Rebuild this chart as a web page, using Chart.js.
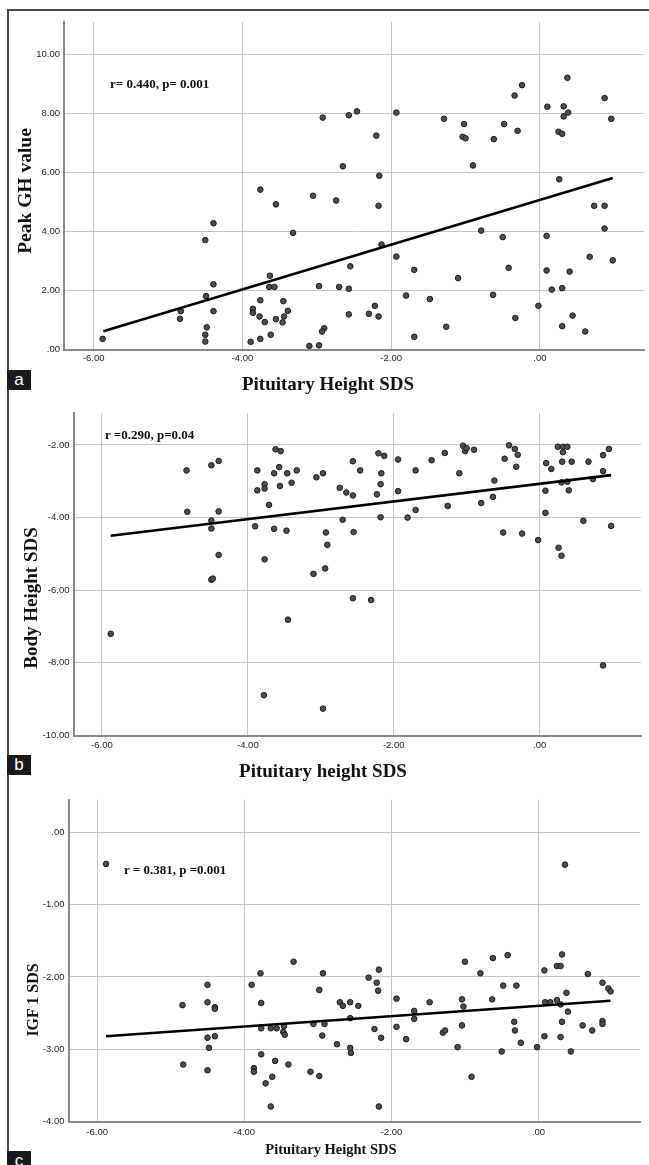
<!DOCTYPE html>
<html>
<head>
<meta charset="utf-8">
<script src="https://cdn.jsdelivr.net/npm/chart.js"></script>
<style>
  body { margin: 0; background: #fff; }
  #page { position: relative; width: 649px; height: 1165px; overflow: hidden; background: #fff; }
  #frame { position: absolute; left: 7px; top: 9px; right: 0; bottom: 0;
           border-top: 2px solid #4a4a4a; border-left: 2px solid #4a4a4a; }
  canvas { position: absolute; left: 0; }
  .ttl { position: absolute; font-family: "Liberation Serif", "Times New Roman", serif; font-weight: bold;
         color: #111; white-space: nowrap; line-height: 1; transform: translate(-50%, -50%); }
  .ytl { transform: translate(-50%, -50%) rotate(-90deg); }
  .note { position: absolute; font-family: "Liberation Serif", "Times New Roman", serif; font-weight: bold;
          font-size: 13px; color: #111; white-space: nowrap; line-height: 1; transform: translateY(-50%); }
  .tag { position: absolute; left: 7px; width: 24px; height: 20px; background: #1a1a1a; color: #fff;
         font-family: "Liberation Sans", Arial, sans-serif; font-size: 17px; line-height: 19px; text-align: center; }
</style>
</head>
<body>
<div id="page">
  <div id="frame"></div>

  <canvas id="chartA" width="649" height="380" style="top:0px"></canvas>
  <canvas id="chartB" width="649" height="360" style="top:395px"></canvas>
  <canvas id="chartC" width="649" height="370" style="top:780px"></canvas>

  <div class="note" style="left:110px; top:83px">r= 0.440, p= 0.001</div>
  <div class="ttl ytl" style="left:25px; top:191px; font-size:19.5px">Peak GH value</div>
  <div class="ttl" style="left:328px; top:383px; font-size:19px">Pituitary Height SDS</div>
  <div class="tag" style="top:370px">a</div>

  <div class="note" style="left:105px; top:434px">r =0.290, p=0.04</div>
  <div class="ttl ytl" style="left:30px; top:598px; font-size:19px">Body Height SDS</div>
  <div class="ttl" style="left:323px; top:770px; font-size:19px">Pituitary height SDS</div>
  <div class="tag" style="top:755px">b</div>

  <div class="note" style="left:124px; top:869px">r = 0.381, p =0.001</div>
  <div class="ttl ytl" style="left:33px; top:1000px; font-size:16px">IGF 1 SDS</div>
  <div class="ttl" style="left:331px; top:1149px; font-size:14.5px">Pituitary Height SDS</div>
  <div class="tag" style="top:1151px">c</div>
</div>

<script>
// ticks shared by the three panels
const xTicks = [-6, -4, -2, 0];
const yTicksA = [0, 2, 4, 6, 8, 10];
const yTicksB = [-10, -8, -6, -4, -2];
const yTicksC = [-4, -3, -2, -1, 0];

// panel a: pituitary height SDS vs peak GH
const pitA = [-5.88, -4.83, -4.84, -4.50, -4.39, -4.39, -4.49, -4.39, -4.48, -4.50, -4.50,
  -3.89, -3.86, -3.86, -3.76, -3.76, -3.77, -3.76, -3.70, -3.63, -3.64, -3.57, -3.62, -3.55,
  -3.55, -3.45, -3.39, -3.44, -3.46, -3.32, -3.05, -2.92, -2.97, -2.90, -2.93, -3.10, -2.97,
  -2.74, -2.65, -2.70, -2.57, -2.55, -2.57, -2.57,
  -2.46, -2.20, -2.16, -2.17, -2.13, -2.30, -2.22, -2.17, -1.93, -1.93, -1.69, -1.80, -1.69,
  -1.48, -1.29, -1.26, -1.10, -1.02, -1.04, -1.00, -0.90, -0.79, -0.62, -0.63, -0.48, -0.50,
  -0.42, -0.34, -0.24, -0.30, -0.33, -0.02, 0.09, 0.09, 0.10, 0.16, 0.26, 0.25, 0.30, 0.32,
  0.32, 0.38, 0.37, 0.30, 0.30, 0.40, 0.44, 0.61, 0.67, 0.73, 0.87, 0.87, 0.87, 0.96, 0.98];
const ghPeak = [0.36, 1.30, 1.04, 3.71, 4.28, 2.21, 1.81, 1.30, 0.75, 0.50, 0.27,
  0.26, 1.38, 1.24, 5.42, 1.67, 1.12, 0.36, 0.93, 2.50, 2.12, 2.12, 0.50, 4.92,
  1.03, 1.64, 1.31, 1.12, 0.92, 3.95, 5.21, 7.86, 2.15, 0.72, 0.61, 0.12, 0.14,
  5.05, 6.21, 2.12, 7.94, 2.82, 2.06, 1.19,
  8.07, 7.25, 5.89, 4.87, 3.56, 1.21, 1.48, 1.12, 8.03, 3.15, 2.70, 1.83, 0.43,
  1.71, 7.82, 0.77, 2.42, 7.64, 7.21, 7.16, 6.24, 4.03, 7.13, 1.85, 7.64, 3.81,
  2.77, 8.61, 8.96, 7.41, 1.07, 1.48, 3.85, 2.68, 8.23, 2.03, 5.77, 7.38, 7.31, 7.90,
  8.24, 8.03, 9.21, 2.08, 0.79, 2.64, 1.15, 0.61, 3.14, 4.87, 4.87, 4.10, 8.52, 7.82, 3.02];
const fitAx = [-5.87, 0.98];
const fitAy = [0.62, 5.81];

// panel b: pituitary height SDS vs body height SDS
const pitB = [-5.88, -4.84, -4.83, -4.50, -4.40, -4.40, -4.50, -4.50, -4.40, -4.50, -4.48,
  -3.90, -3.87, -3.87, -3.77, -3.77, -3.71, -3.77, -3.78, -3.64, -3.64, -3.62, -3.55, -3.57,
  -3.56, -3.46, -3.40, -3.33, -3.47, -3.45, -3.06, -2.97, -3.10, -2.94, -2.93, -2.91, -2.97,
  -2.74, -2.65, -2.70, -2.56, -2.56, -2.55, -2.56,
  -2.46, -2.31, -2.21, -2.13, -2.17, -2.18, -2.23, -2.18, -1.94, -1.94, -1.81, -1.70, -1.70,
  -1.48, -1.30, -1.26, -1.10, -1.05, -1.02, -1.00, -0.90, -0.80, -0.64, -0.62, -0.50, -0.48,
  -0.42, -0.34, -0.30, -0.32, -0.24, -0.02, 0.09, 0.16, 0.08, 0.08, 0.25, 0.32, 0.38, 0.32,
  0.31, 0.44, 0.30, 0.38, 0.40, 0.26, 0.30, 0.60, 0.67, 0.73, 0.87, 0.95, 0.87, 0.98, 0.87];
const bodyHt = [-7.20, -2.70, -3.84, -2.56, -2.44, -3.83, -4.08, -4.30, -5.03, -5.71, -5.68,
  -4.24, -2.70, -3.25, -3.08, -3.20, -3.65, -5.15, -8.89, -4.31, -2.78, -2.12, -2.17, -2.61,
  -3.13, -2.78, -3.04, -2.70, -4.36, -6.81, -2.89, -2.78, -5.55, -5.40, -4.41, -4.75, -9.26,
  -3.18, -3.31, -4.06, -2.45, -3.39, -4.40, -6.22,
  -2.70, -6.27, -2.23, -2.30, -2.78, -3.08, -3.36, -3.99, -2.40, -3.27, -4.00, -2.70, -3.79,
  -2.42, -2.22, -3.68, -2.78, -2.02, -2.17, -2.09, -2.13, -3.60, -3.43, -2.98, -4.41, -2.38,
  -2.01, -2.11, -2.27, -2.60, -4.44, -4.62, -2.50, -2.66, -3.26, -3.87, -2.05, -2.05, -2.05, -2.20,
  -2.46, -2.46, -3.03, -3.01, -3.25, -4.83, -5.05, -4.09, -2.46, -2.94, -2.28, -2.11, -2.72, -4.23, -8.07];
const fitBx = [-5.88, 0.98];
const fitBy = [-4.50, -2.83];

// panel c: pituitary height SDS vs IGF-1 SDS
const pitC = [-5.88, -4.84, -4.83, -4.50, -4.50, -4.40, -4.40, -4.50, -4.40, -4.48, -4.50,
  -3.90, -3.78, -3.77, -3.77, -3.77, -3.87, -3.87, -3.71, -3.64, -3.56, -3.46, -3.47, -3.45,
  -3.58, -3.62, -3.40, -3.64, -3.33, -3.06, -3.10, -2.98, -2.98, -2.93, -2.91, -2.94, -2.74,
  -2.70, -2.66, -2.56, -2.56, -2.56, -2.55,
  -2.45, -2.31, -2.20, -2.17, -2.18, -2.23, -2.14, -2.17, -1.93, -1.93, -1.80, -1.69, -1.69,
  -1.48, -1.30, -1.27, -1.10, -1.04, -1.02, -1.04, -1.00, -0.91, -0.79, -0.63, -0.62, -0.48,
  -0.50, -0.42, -0.30, -0.33, -0.32, -0.24, -0.02, 0.08, 0.08, 0.09, 0.16, 0.25, 0.25, 0.30,
  0.32, 0.30, 0.32, 0.30, 0.36, 0.38, 0.40, 0.44, 0.60, 0.67, 0.73, 0.87, 0.87, 0.87, 0.95, 0.98];
const igf1 = [-0.44, -2.39, -3.21, -2.11, -2.35, -2.42, -2.44, -2.84, -2.82, -2.98, -3.29,
  -2.11, -1.95, -2.36, -2.71, -3.07, -3.26, -3.31, -3.47, -2.71, -2.71, -2.68, -2.76, -2.80,
  -3.16, -3.38, -3.21, -3.79, -1.79, -2.65, -3.31, -3.37, -2.18, -1.95, -2.65, -2.81, -2.93,
  -2.35, -2.40, -2.35, -2.57, -2.98, -3.05,
  -2.40, -2.01, -2.08, -1.90, -2.19, -2.72, -2.84, -3.79, -2.30, -2.69, -2.86, -2.47, -2.58,
  -2.35, -2.77, -2.74, -2.97, -2.31, -2.41, -2.67, -1.79, -3.38, -1.95, -2.31, -1.74, -2.12,
  -3.03, -1.70, -2.12, -2.62, -2.74, -2.91, -2.97, -1.91, -2.82, -2.35, -2.35, -2.32, -1.85, -1.85,
  -1.69, -2.38, -2.62, -2.83, -0.45, -2.22, -2.48, -3.03, -2.67, -1.96, -2.74, -2.08, -2.61, -2.65, -2.16, -2.20];
const fitCx = [-5.88, 0.98];
const fitCy = [-2.82, -2.33];

// SPSS style labels: .00, -2.00, 10.00
function spss(v) {
  let s = Math.abs(v).toFixed(2);
  if (s.startsWith('0')) s = s.slice(1);
  return (v < 0 ? '-' : '') + s;
}

const tickFont = { family: "'Liberation Sans Narrow', 'Liberation Sans', Arial, sans-serif", size: 9.5 };

function makePanel(id, xs, ys, fx, fy, yTicks, xLim, yLim, area, tickPad) {
  const canvas = document.getElementById(id);
  const W = canvas.width, H = canvas.height;
  return new Chart(canvas, {
    type: 'scatter',
    data: {
      datasets: [
        {
          data: fx.map((x, i) => ({ x: x, y: fy[i] })),
          showLine: true,
          borderColor: '#000',
          borderWidth: 2.6,
          pointRadius: 0,
          fill: false
        },
        {
          data: xs.map((x, i) => ({ x: x, y: ys[i] })),
          pointRadius: 2.8,
          pointBackgroundColor: '#4d4d4d',
          pointBorderColor: '#1c1c1c',
          pointBorderWidth: 1
        }
      ]
    },
    options: {
      responsive: false,
      animation: false,
      events: [],
      layout: { padding: { left: 0, top: area.top, right: W - area.right, bottom: 0 } },
      plugins: { legend: { display: false }, tooltip: { enabled: false } },
      scales: {
        x: {
          type: 'linear',
          min: xLim[0], max: xLim[1],
          afterBuildTicks: s => { s.ticks = xTicks.map(v => ({ value: v })); },
          afterFit: s => { s.height = H - area.bottom; },
          ticks: { callback: v => spss(v), font: tickFont, color: '#222', padding: tickPad, maxRotation: 0 },
          grid: { color: '#c6c6c6', lineWidth: 1, drawTicks: false },
          border: { display: true, color: '#8a8a8a', width: 2 }
        },
        y: {
          type: 'linear',
          min: yLim[0], max: yLim[1],
          afterBuildTicks: s => { s.ticks = yTicks.map(v => ({ value: v })); },
          afterFit: s => { s.width = area.left; },
          ticks: { callback: v => spss(v), font: tickFont, color: '#222', padding: 4 },
          grid: { color: '#c6c6c6', lineWidth: 1, drawTicks: false },
          border: { display: true, color: '#8a8a8a', width: 2 }
        }
      }
    }
  });
}

makePanel('chartA', pitA, ghPeak, fitAx, fitAy, yTicksA, [-6.40, 1.40], [0, 11.1],
  { left: 64, top: 22, right: 644, bottom: 349.5 }, 3);
makePanel('chartB', pitB, bodyHt, fitBx, fitBy, yTicksB, [-6.39, 1.39], [-10, -1.12],
  { left: 73.5, top: 18, right: 641, bottom: 340.5 }, 4);
makePanel('chartC', pitC, igf1, fitCx, fitCy, yTicksC, [-6.39, 1.38], [-4, 0.45],
  { left: 68.5, top: 19.5, right: 640, bottom: 341.7 }, 5);
</script>
</body>
</html>
